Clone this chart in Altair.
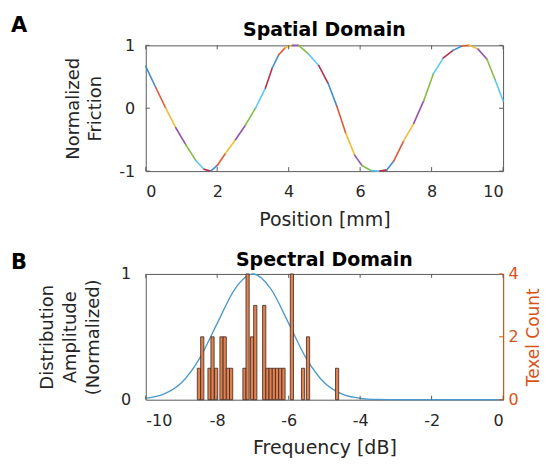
import altair as alt
import pandas as pd

# ---------------- data ----------------
# Panel A: spatial friction profile (mm, normalized friction)
pos_mm = [0.00, 0.28, 0.56, 0.84, 1.12, 1.40, 1.63, 1.82, 2.00, 2.23, 2.51, 2.79,
          3.07, 3.35, 3.54, 3.72, 3.90, 4.10, 4.28, 4.56, 4.84, 5.10, 5.35, 5.60,
          5.85, 6.05, 6.30, 6.55, 6.75, 6.94, 7.22, 7.50, 7.78, 8.05, 8.33, 8.60,
          8.85, 9.05, 9.30, 9.55, 9.78, 10.00]
friction = [0.667, 0.33, 0.00, -0.31, -0.58, -0.83, -0.97, -1.00, -0.91, -0.72, -0.50, -0.27,
            0.00, 0.32, 0.64, 0.85, 0.96, 1.00, 1.00, 0.86, 0.68, 0.40, 0.03, -0.40,
            -0.75, -0.91, -0.99, -1.00, -0.98, -0.84, -0.52, -0.24, 0.12, 0.55, 0.80, 0.92,
            0.99, 1.00, 0.94, 0.78, 0.45, 0.12]

# Panel B: normalized distribution amplitude
freq_db = [-10.0, -9.5, -9.0, -8.5, -8.0, -7.5, -7.0, -6.5, -6.0, -5.5, -5.0,
           -4.5, -4.0, -3.5, -3.0, -2.0, -1.0, 0.0]
amplitude = [0.011, 0.044, 0.135, 0.325, 0.607, 0.882, 1.000, 0.882, 0.607, 0.325, 0.135,
             0.044, 0.011, 0.002, 0.000, 0.000, 0.000, 0.000]

# Panel B: texel count histogram (bin left edge in dB, count)
bin_left_db = [-8.556, -8.464, -8.260, -8.176, -8.075, -7.925, -7.835, -7.745, -7.655,
               -7.282, -7.195, -7.070, -6.980, -6.730, -6.640, -6.550, -6.460, -6.370,
               -6.280, -6.190, -5.955, -5.642, -5.503, -4.690]
texel_count = [1, 2, 1, 2, 1, 2, 2, 1, 1,
               1, 4, 2, 3, 3, 1, 1, 1, 1,
               1, 1, 4, 1, 2, 1]
bin_width_db = 0.09

x_ticks_a = [0, 2, 4, 6, 8, 10]
y_ticks_a = [-1, 0, 1]
x_ticks_b = [-10, -8, -6, -4, -2, 0]
y_ticks_b_left = [0, 1]
y_ticks_b_right = [0, 2, 4]

# ---------------- styling ----------------
FONT = "DejaVu Sans"
TXT = "#262626"
FRAME = "#5a5a5a"
ORANGE = "#D95319"
seg_colors = ["#3f8fd2", "#e05a35", "#f0bd38", "#9552b0", "#86bd45", "#5cc8f0", "#b8304a"]
W, H = 358, 126
LBL = 16
TTL = 19

# ---------------- Panel A ----------------
segs = pd.DataFrame({
    "x": pos_mm[:-1], "x2": pos_mm[1:],
    "y": friction[:-1], "y2": friction[1:],
    "seg": [i % len(seg_colors) for i in range(len(pos_mm) - 1)],
})

def xa():
    return alt.X("x:Q", scale=alt.Scale(domain=[0, 10], nice=False, zero=False),
                 axis=alt.Axis(values=x_ticks_a, title="Position [mm]", ticks=False, domain=False,
                               grid=False, labelPadding=12, titlePadding=11, labelFontSize=LBL,
                               titleFontSize=TTL, labelColor=TXT, titleColor=TXT,
                               titleFontWeight="normal", labelExpr="datum.value"))

def ya():
    return alt.Y("y:Q", scale=alt.Scale(domain=[-1, 1], nice=False, zero=False),
                 axis=alt.Axis(values=y_ticks_a, title=["Normalized", "Friction"], ticks=False,
                               domain=False, grid=False, labelPadding=11, titlePadding=14,
                               labelFontSize=LBL, titleFontSize=18, titleLineHeight=22,
                               labelColor=TXT, titleColor=TXT, titleFontWeight="normal",
                               labelExpr="datum.value"))

line_a = alt.Chart(segs).mark_rule(strokeWidth=1.6, strokeCap="round").encode(
    x=xa(), x2="x2:Q", y=ya(), y2="y2:Q",
    color=alt.Color("seg:N", scale=alt.Scale(domain=list(range(len(seg_colors))), range=seg_colors),
                    legend=None),
)

tx_a = pd.DataFrame({"x": x_ticks_a})
ty_a = pd.DataFrame({"y": y_ticks_a})
tick_a_bot = alt.Chart(tx_a).mark_rule(color=FRAME).encode(x=xa(), y=alt.value(H), y2=alt.value(H - 4))
tick_a_top = alt.Chart(tx_a).mark_rule(color=FRAME).encode(x=xa(), y=alt.value(0), y2=alt.value(4))
tick_a_l = alt.Chart(ty_a).mark_rule(color=FRAME).encode(y=ya(), x=alt.value(0), x2=alt.value(4))
tick_a_r = alt.Chart(ty_a).mark_rule(color=FRAME).encode(y=ya(), x=alt.value(W), x2=alt.value(W - 4))

lab_a = alt.Chart(pd.DataFrame({"lab": ["A"]})).mark_text(
    align="left", baseline="top", fontSize=21, fontWeight="bold", color="black", font=FONT
).encode(text="lab:N", x=alt.value(-135), y=alt.value(-30))

panel_a = alt.layer(line_a, tick_a_bot, tick_a_top, tick_a_l, tick_a_r, lab_a).properties(
    width=W, height=H,
    title=alt.TitleParams("Spatial Domain", fontSize=19, fontWeight="bold", color="black",
                          font=FONT, offset=-25),
)

# ---------------- Panel B ----------------
gauss = pd.DataFrame({"f": freq_db, "amp": amplitude})
bars = pd.DataFrame({"f": bin_left_db, "count": texel_count})
bars["f2"] = bars["f"] + bin_width_db

def xb():
    return alt.X("f:Q", scale=alt.Scale(domain=[-10, 0], nice=False, zero=False),
                 axis=alt.Axis(values=x_ticks_b, title="Frequency [dB]", ticks=False, domain=False,
                               grid=False, labelPadding=13, titlePadding=10, labelFontSize=LBL,
                               titleFontSize=TTL, labelColor=TXT, titleColor=TXT,
                               titleFontWeight="normal", labelExpr="datum.value"))

amp_scale = alt.Scale(domain=[0, 1], nice=False, zero=False)
cnt_scale = alt.Scale(domain=[0, 4], nice=False, zero=False)

line_b = alt.Chart(gauss).mark_line(color="#4a98cc", strokeWidth=1.3, interpolate="monotone").encode(
    x=xb(),
    y=alt.Y("amp:Q", scale=amp_scale,
            axis=alt.Axis(values=y_ticks_b_left, title=["Distribution", "Amplitude", "(Normalized)"],
                          ticks=False, domain=False, grid=False, labelPadding=15, titlePadding=18,
                          labelFontSize=LBL, titleFontSize=18, titleLineHeight=23,
                          labelColor=TXT, titleColor=TXT, titleFontWeight="normal",
                          labelExpr="datum.value")),
)

bar_b = alt.Chart(bars).mark_rect(fill="#E2804F", stroke="#3a2a22", strokeWidth=0.8).encode(
    x=xb(), x2="f2:Q",
    y=alt.Y("count:Q", scale=cnt_scale,
            axis=alt.Axis(orient="right", values=y_ticks_b_right, title="Texel Count", ticks=False,
                          domain=True, domainColor=ORANGE, domainWidth=1.2, grid=False,
                          labelPadding=5, titlePadding=7, labelFontSize=LBL, titleFontSize=17,
                          labelColor=ORANGE, titleColor=ORANGE, titleFontWeight="normal",
                          titleAngle=270, titleBaseline="top", labelExpr="datum.value")),
    y2=alt.datum(0),
)

tx_b = pd.DataFrame({"f": x_ticks_b})
tick_b_bot = alt.Chart(tx_b).mark_rule(color=FRAME).encode(x=xb(), y=alt.value(H), y2=alt.value(H - 4))
tick_b_top = alt.Chart(tx_b).mark_rule(color=FRAME).encode(x=xb(), y=alt.value(0), y2=alt.value(4))
tick_b_r = alt.Chart(pd.DataFrame({"count": y_ticks_b_right})).mark_rule(color=ORANGE).encode(
    y=alt.Y("count:Q", scale=cnt_scale, axis=None), x=alt.value(W), x2=alt.value(W - 4))

lab_b = alt.Chart(pd.DataFrame({"lab": ["B"]})).mark_text(
    align="left", baseline="top", fontSize=21, fontWeight="bold", color="black", font=FONT
).encode(text="lab:N", x=alt.value(-135), y=alt.value(-22))

panel_b = alt.layer(line_b, bar_b, tick_b_bot, tick_b_top, tick_b_r, lab_b).resolve_scale(
    y="independent"
).properties(
    width=W, height=H,
    title=alt.TitleParams("Spectral Domain", fontSize=19, fontWeight="bold", color="black",
                          font=FONT, offset=-18),
)

chart = alt.vconcat(panel_a, panel_b, spacing=20).properties(
    padding={"left": 2, "top": 6, "right": 0, "bottom": 0}
).configure(font=FONT).configure_view(stroke=FRAME, strokeWidth=1)

chart.save("out.html", embed_options={"renderer": "svg", "actions": False})
